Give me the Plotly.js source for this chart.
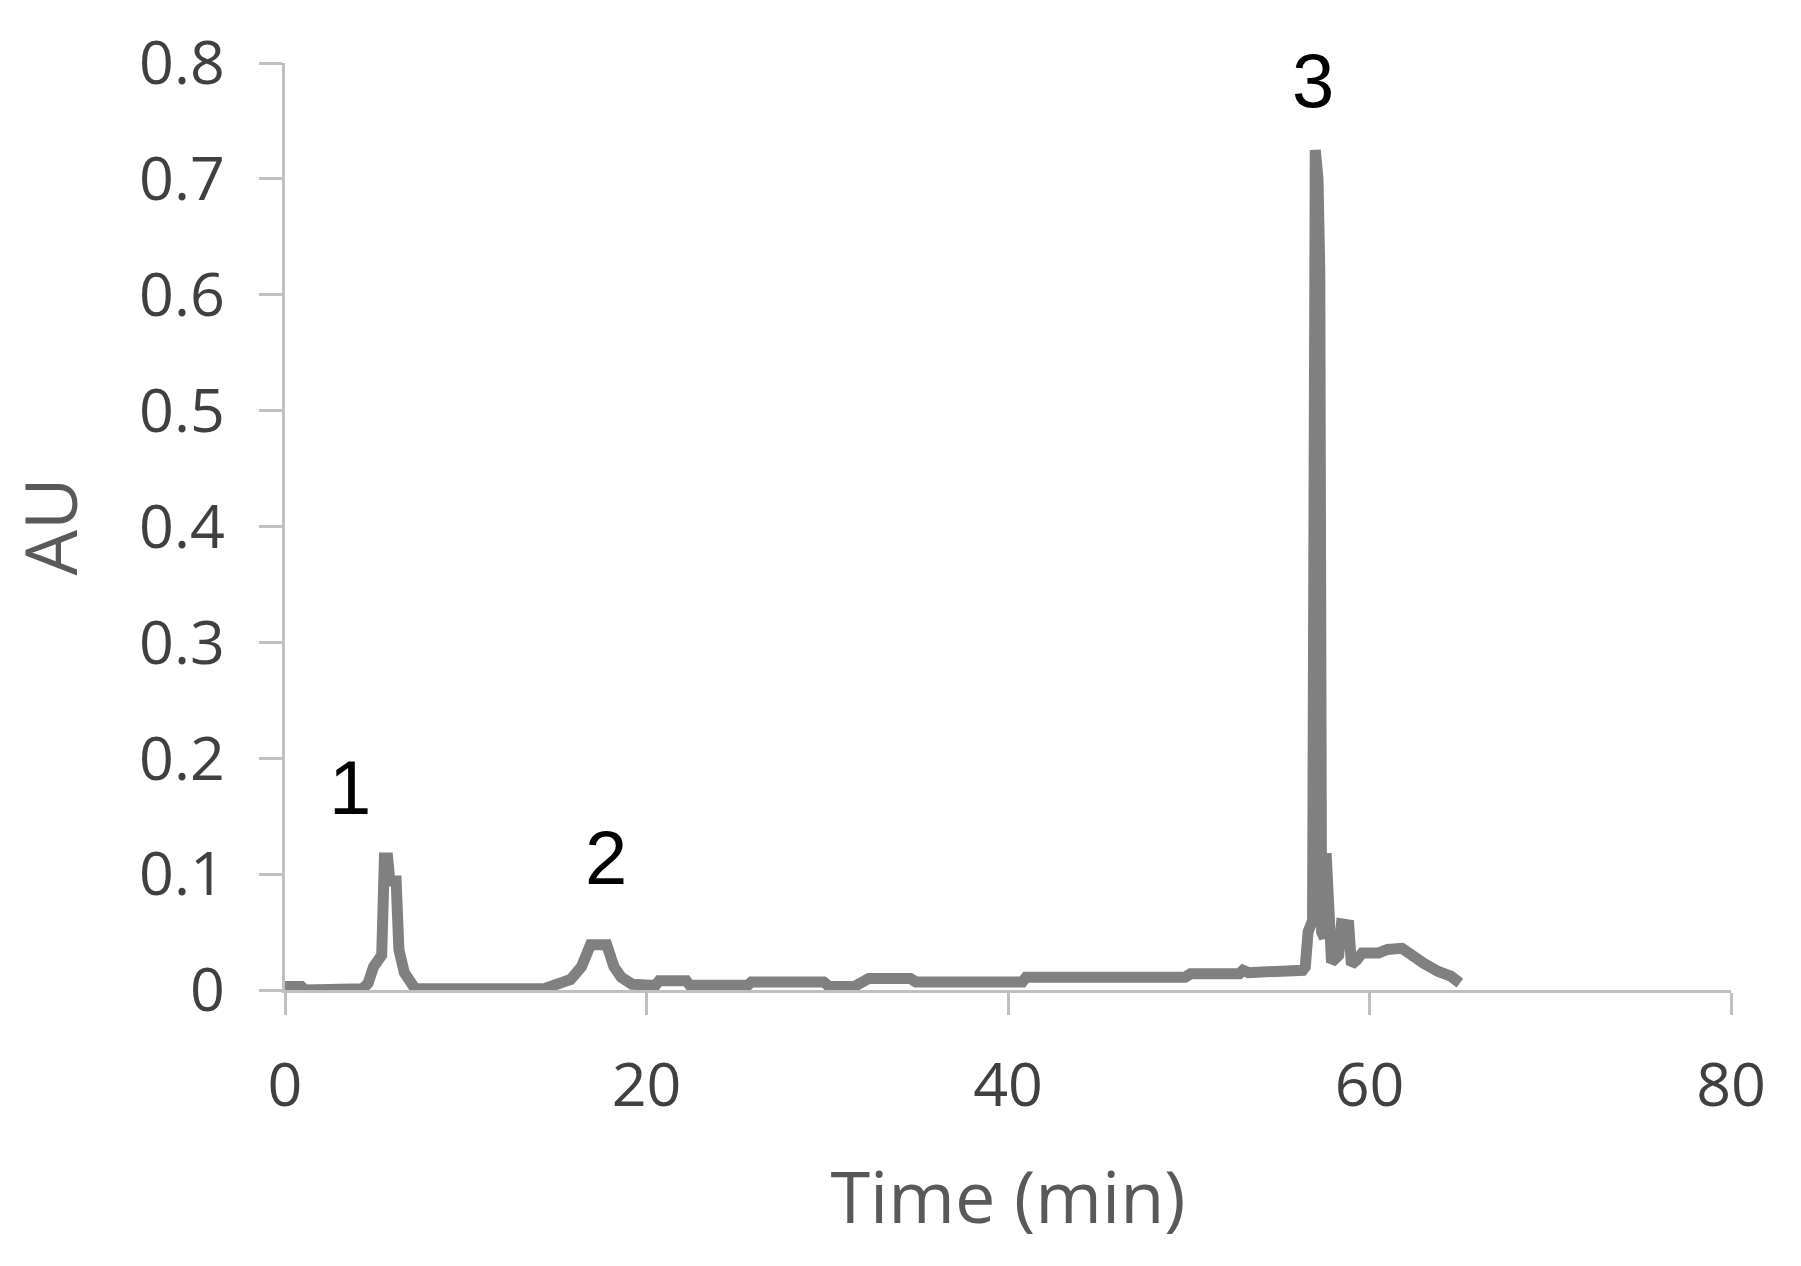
<!DOCTYPE html>
<html>
<head>
<meta charset="utf-8">
<script src="https://cdn.plot.ly/plotly-3.0.1.min.js"></script>
<style>
  html, body { margin: 0; padding: 0; background: #fff; }
  #chart { width: 1801px; height: 1266px; }
</style>
</head>
<body>
<div id="chart"></div>
<script>
// chromatogram trace
const timeMin = [
  0, 0.2, 0.9, 1.1, 4.3, 4.6, 4.9, 5.35, 5.5, 5.68, 5.8, 6.15, 6.3, 6.6, 7.2,
  14.3, 15.0, 15.8, 16.4, 16.9, 17.8, 18.2, 18.6, 19.2, 20.5, 20.7,
  22.2, 22.4, 25.6, 25.8, 29.8, 30.1, 31.5, 31.8, 32.3, 34.6, 34.9, 40.8, 41.0,
  49.8, 50.1, 52.8, 53.0, 53.3, 55.8, 56.3, 56.45, 56.6, 56.85, 57.0, 57.15,
  57.25, 57.35, 57.5, 57.6, 57.75, 57.9, 58.3, 58.45, 58.85, 59.0, 59.3, 59.6,
  60.5, 61.0, 61.8, 62.3, 63.0, 63.8, 64.5, 65.0
];
const absorbance = [
  0.003, 0.003, 0.003, 0.0, 0.001, 0.006, 0.02, 0.03, 0.114, 0.114, 0.094, 0.094, 0.035, 0.015, 0.001,
  0.001, 0.004, 0.009, 0.02, 0.039, 0.039, 0.02, 0.011, 0.005, 0.004, 0.008,
  0.008, 0.004, 0.004, 0.007, 0.007, 0.003, 0.003, 0.005, 0.01, 0.01, 0.007, 0.007, 0.011,
  0.011, 0.014, 0.014, 0.017, 0.015, 0.015, 0.017, 0.02, 0.05, 0.06, 0.725, 0.70,
  0.62, 0.05, 0.045, 0.118, 0.03, 0.024, 0.03, 0.057, 0.056, 0.022, 0.026, 0.032,
  0.032, 0.035, 0.036, 0.03, 0.023, 0.016, 0.012, 0.006
];

// peak labels
const peakNames = ["1", "2", "3"];
const peakLabelX = [3.6, 17.75, 56.9];
const peakLabelY = [0.175, 0.114, 0.785];

const tickColor = "#bfbfbf";
const textColor = "#404040";

const trace = {
  x: timeMin,
  y: absorbance,
  mode: "lines",
  type: "scatter",
  line: { color: "#808080", width: 11 },
  hoverinfo: "skip"
};

const annotations = peakNames.map((name, i) => ({
  x: peakLabelX[i],
  y: peakLabelY[i],
  xref: "x",
  yref: "y",
  text: name,
  showarrow: false,
  xanchor: "center",
  yanchor: "middle",
  font: { family: "Liberation Sans, Arial, sans-serif", size: 76, color: "#000" }
}));

const layout = {
  width: 1801,
  height: 1266,
  paper_bgcolor: "#fff",
  plot_bgcolor: "#fff",
  showlegend: false,
  margin: { l: 285, r: 70, t: 63, b: 276 },
  font: { family: "Open Sans, Noto Sans, sans-serif", color: textColor },
  xaxis: {
    range: [0, 80],
    tickvals: [0, 20, 40, 60, 80],
    ticks: "outside",
    ticklen: 22,
    tickwidth: 3,
    tickcolor: tickColor,
    showline: true,
    linecolor: tickColor,
    linewidth: 3,
    showgrid: false,
    zeroline: false,
    ticklabelstandoff: 18,
    tickfont: { size: 61, color: textColor },
    title: { text: "Time (min)", font: { size: 72, color: "#595959" }, standoff: 50 }
  },
  yaxis: {
    range: [0, 0.8],
    tickvals: [0, 0.1, 0.2, 0.3, 0.4, 0.5, 0.6, 0.7, 0.8],
    ticktext: ["0", "0.1", "0.2", "0.3", "0.4", "0.5", "0.6", "0.7", "0.8"],
    ticks: "outside",
    ticklen: 23,
    tickwidth: 3,
    tickcolor: tickColor,
    showline: true,
    linecolor: tickColor,
    linewidth: 3,
    showgrid: false,
    zeroline: false,
    ticklabelstandoff: 22,
    tickfont: { size: 61, color: textColor },
    title: { text: "AU", font: { size: 72, color: "#595959" }, standoff: 40 }
  },
  annotations: annotations
};

Plotly.newPlot("chart", [trace], layout, { staticPlot: true });
</script>
</body>
</html>
